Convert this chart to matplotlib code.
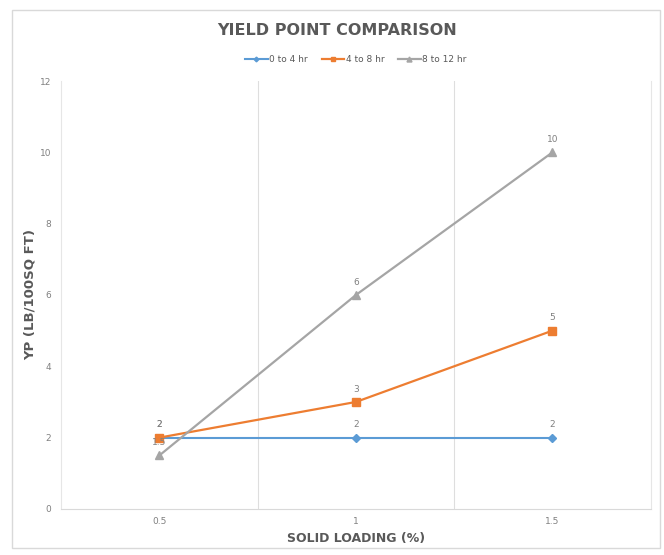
import numpy as np
from matplotlib import pyplot as plt
from matplotlib.patches import Rectangle

categories = ['0.5', '1', '1.5']
hr_0_4 = [2, 2, 2]
hr_4_8 = [2, 3, 5]
hr_8_12 = [1.5, 6, 10]

fig = plt.figure(figsize=(6.64, 5.55), dpi=100)
ax = fig.add_axes([0.092, 0.083, 0.888, 0.771])

x = np.arange(len(categories))
ax.plot(x, hr_0_4, color='#5B9BD5', marker='D', markersize=4, lw=1.5, label='0 to 4 hr', zorder=3)
ax.plot(x, hr_4_8, color='#ED7D31', marker='s', markersize=6, lw=1.6, label='4 to 8 hr', zorder=4)
ax.plot(x, hr_8_12, color='#A5A5A5', marker='^', markersize=6, lw=1.6, label='8 to 12 hr', zorder=5)

# data labels
for series in [hr_0_4, hr_4_8, hr_8_12]:
    for xi, v in zip(x, series):
        lbl = ('%g' % v)
        ax.annotate(lbl, (xi, v), xytext=(0, 6), textcoords='offset points',
                    ha='center', va='bottom', fontsize=6.5, color='#808080', zorder=6)

ax.set_xlim(-0.5, 2.5)
ax.set_ylim(0, 12)
ax.set_yticks(range(0, 13, 2))
ax.set_xticks(x)
ax.set_xticklabels(categories)
ax.set_xticks([0.5, 1.5], minor=True)
ax.grid(axis='x', which='minor', color='#DEDEDE', lw=0.8)
ax.tick_params(which='both', length=0)
ax.tick_params(axis='both', labelsize=6.5, labelcolor='#808080')
ax.tick_params(axis='x', pad=6)
ax.tick_params(axis='y', pad=7)

ax.spines['top'].set_visible(False)
ax.spines['right'].set_color('#E6E6E6')
ax.spines['left'].set_color('#E6E6E6')
ax.spines['bottom'].set_color('#D9D9D9')

ax.set_xlabel('SOLID LOADING (%)', fontsize=9, fontweight='bold', color='#595959', labelpad=4)
ax.set_ylabel('YP (LB/100SQ FT)', fontsize=9.5, fontweight='bold', color='#595959', labelpad=2)

fig.text(0.507, 0.945, 'YIELD POINT COMPARISON',
         ha='center', va='center', fontsize=11.5, fontweight='bold', color='#595959')

ax.legend(loc='lower center', bbox_to_anchor=(0.5, 1.02), ncol=3, frameon=False,
          fontsize=6.5, labelcolor='#595959', handlelength=2.5, columnspacing=1.5,
          handletextpad=0.2, markerscale=0.6)

fig.patches.append(Rectangle((0.018, 0.012), 0.976, 0.97, transform=fig.transFigure,
                             fill=False, edgecolor='#D9D9D9', lw=1))

plt.savefig('out.png', dpi=100)
